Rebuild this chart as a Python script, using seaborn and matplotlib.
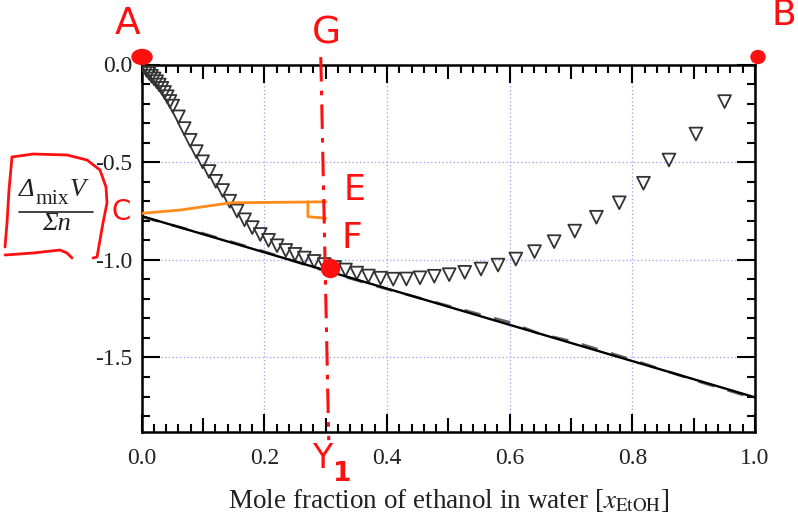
import numpy as np
import pandas as pd
import seaborn as sns
import matplotlib.pyplot as plt
import matplotlib.ticker as mticker
import matplotlib.transforms as mtransforms
from matplotlib.lines import Line2D
from matplotlib.patches import Ellipse

# mole fraction of ethanol and mixing volume per mole
x_etoh = [0.0, 0.0040, 0.0079, 0.0120, 0.0160, 0.0202, 0.0244, 0.0286, 0.0329, 0.0372,
          0.0416, 0.0461, 0.0506, 0.0599, 0.0693, 0.0791,
          0.0891, 0.0993, 0.1099, 0.1208, 0.1320, 0.1435, 0.1554, 0.1677, 0.1803, 0.1933,
          0.2068, 0.2207, 0.2350, 0.2499, 0.2652, 0.2811, 0.2976, 0.3146, 0.3323, 0.3507,
          0.3697, 0.3895, 0.4101, 0.4315, 0.4538, 0.4771, 0.5014, 0.5267, 0.5532, 0.5810,
          0.6100, 0.6405, 0.6725, 0.7061, 0.7414, 0.7787, 0.8181, 0.8597, 0.9037, 0.9504]
dv_mix = [0.0, -0.015, -0.030, -0.045, -0.060, -0.074, -0.088, -0.105, -0.122, -0.143,
          -0.165, -0.189, -0.213, -0.268, -0.328, -0.388,
          -0.446, -0.498, -0.548, -0.598, -0.645, -0.700, -0.750, -0.795, -0.835, -0.870,
          -0.900, -0.928, -0.952, -0.972, -0.991, -1.008, -1.024, -1.039, -1.052, -1.068,
          -1.083, -1.094, -1.099, -1.098, -1.092, -1.084, -1.076, -1.064, -1.047, -1.027,
          -0.996, -0.958, -0.907, -0.853, -0.782, -0.708, -0.608, -0.489, -0.356, -0.190]

# tangent at x = 0.3 and the dashed reference curve
tan_x = [0.0, 1.0]
tan_y = [-0.776, -1.704]
ref_x = [0.0, 0.1, 0.2, 0.3, 0.4, 0.5, 0.6, 0.65, 0.7, 0.8, 0.9, 1.0]
ref_y = [-0.780, -0.865, -0.958, -1.058, -1.150, -1.236, -1.320, -1.380, -1.416, -1.512, -1.615, -1.710]

# orange construction line and right-angle mark
orange_x = [0.0, 0.063, 0.145, 0.30]
orange_y = [-0.762, -0.745, -0.708, -0.703]
mark_x = [0.271, 0.271, 0.30]
mark_y = [-0.703, -0.779, -0.787]

x_ticks = [0.0, 0.2, 0.4, 0.6, 0.8, 1.0]
y_ticks = [0.0, -0.5, -1.0, -1.5]

sns.set_theme(style="white")
plt.rcParams["font.family"] = ["Liberation Serif", "DejaVu Serif"]
plt.rcParams["mathtext.fontset"] = "stix"
plt.rcParams["axes.unicode_minus"] = False

W, H = 798, 518
fig = plt.figure(figsize=(W / 100, H / 100), dpi=100)
ax = fig.add_axes([141.7 / W, 1 - 432.3 / H, (755 - 141.7) / W, (432.3 - 64.5) / H])

df = pd.DataFrame({"x": x_etoh, "v": dv_mix})
sns.scatterplot(data=df, x="x", y="v", marker="v", s=85, facecolors="none",
                edgecolor="#333333", linewidth=1.3, ax=ax, zorder=3)
ax.plot(ref_x, ref_y, color="#666666", lw=2.0, linestyle=(0, (6, 5)), zorder=2)
ax.plot(tan_x, tan_y, color="black", lw=1.7, zorder=4)
ax.plot(orange_x, orange_y, color="#ff8c1a", lw=2.0, zorder=5)
ax.plot(mark_x, mark_y, color="#ff8c1a", lw=2.0, zorder=5)

ax.set_xlim(0, 1)
ax.set_ylim(-1.883, 0)
ax.set_xticks(x_ticks)
ax.set_yticks(y_ticks)
ax.xaxis.set_major_formatter(mticker.FormatStrFormatter("%.1f"))
ax.yaxis.set_major_formatter(mticker.FormatStrFormatter("%.1f"))
ax.xaxis.set_minor_locator(mticker.MultipleLocator(0.02))
ax.yaxis.set_minor_locator(mticker.MultipleLocator(0.1))
ax.tick_params(which="both", direction="in", bottom=True, left=True, top=True, right=True,
               color="black", width=1.5)
ax.tick_params(which="major", length=13, labelsize=17, labelcolor="#222222")
ax.tick_params(axis="x", which="major", pad=11)
ax.tick_params(axis="y", which="major", pad=7)
ax.tick_params(which="minor", length=6)
ax.grid(True, which="major", linestyle=(0, (1, 2)), color="#9c9cf0", lw=0.9)
for s in ax.spines.values():
    s.set_color("black")
    s.set_linewidth(1.8)
ax.set_xlabel(r"Mole fraction of ethanol in water [$x_{\mathrm{EtOH}}$]", fontsize=19.5,
              color="#222222", labelpad=13)
ax.set_ylabel("")

# medium ticks at the odd tenths
fig.canvas.draw()
for t in ax.xaxis.get_minor_ticks():
    if abs(t.get_loc() * 10 - round(t.get_loc() * 10)) < 1e-6:
        t.tick1line.set_markersize(10)
        t.tick2line.set_markersize(10)

# pixel coordinates for the label pieces and the red markup
px = mtransforms.Affine2D().scale(1 / W, -1 / H).translate(0, 1) + fig.transFigure

# y label: Delta_mix V over Sigma n
lab = dict(color="#222222", va="baseline", transform=px, style="italic")
fig.text(19, 196, "Δ", fontsize=19, ha="left", **lab)
fig.text(35, 204, "mix", fontsize=15.5, ha="left", color="#222222", va="baseline", transform=px)
fig.text(70, 196, "V", fontsize=19, ha="left", **lab)
fig.add_artist(Line2D([19, 93], [212, 212], color="#222222", lw=1.2, transform=px))
fig.text(56, 230, "Σn", fontsize=19, ha="center", **lab)

red = "#ff1010"
hand = dict(color=red, family="DejaVu Sans", ha="center", va="center", transform=px)
fig.text(128, 24, "A", fontsize=27, **hand)
fig.text(784, 15, "B", fontsize=26, **hand)
fig.text(326, 34, "G", fontsize=27, **hand)
fig.text(121, 212, "C", fontsize=20, **hand)
fig.text(355, 190, "E", fontsize=25, **hand)
fig.text(352, 238, "F", fontsize=26, **hand)
fig.text(322, 459, "Y", fontsize=24, **hand)
fig.text(342, 474, "1", fontsize=19, fontweight="bold", **hand)
fig.add_artist(Ellipse((142, 57), 20, 15, color=red, transform=px, zorder=10))
fig.add_artist(Ellipse((758, 57), 14, 13, color=red, transform=px, zorder=10))

bracket = [
    ([12, 33, 67, 87, 100, 106, 107, 103, 100, 97, 93],
     [157, 154, 155, 160, 170, 187, 203, 223, 240, 257, 258]),
    ([12, 9, 7, 5], [157, 190, 223, 247]),
    ([5, 33, 60, 67, 72], [255, 253, 250, 253, 258]),
]
for bx, by in bracket:
    fig.add_artist(Line2D(bx, by, color=red, lw=2.0, transform=px))

ax.plot([0.292, 0.305], [0.038, -1.923], color=red, lw=2.2,
        linestyle=(0, (8, 3, 1.5, 3)), clip_on=False, zorder=6)
ax.plot([0.307], [-1.042], marker="o", markersize=13, color=red, clip_on=False, zorder=7)

fig.savefig("out.png", dpi=100)
